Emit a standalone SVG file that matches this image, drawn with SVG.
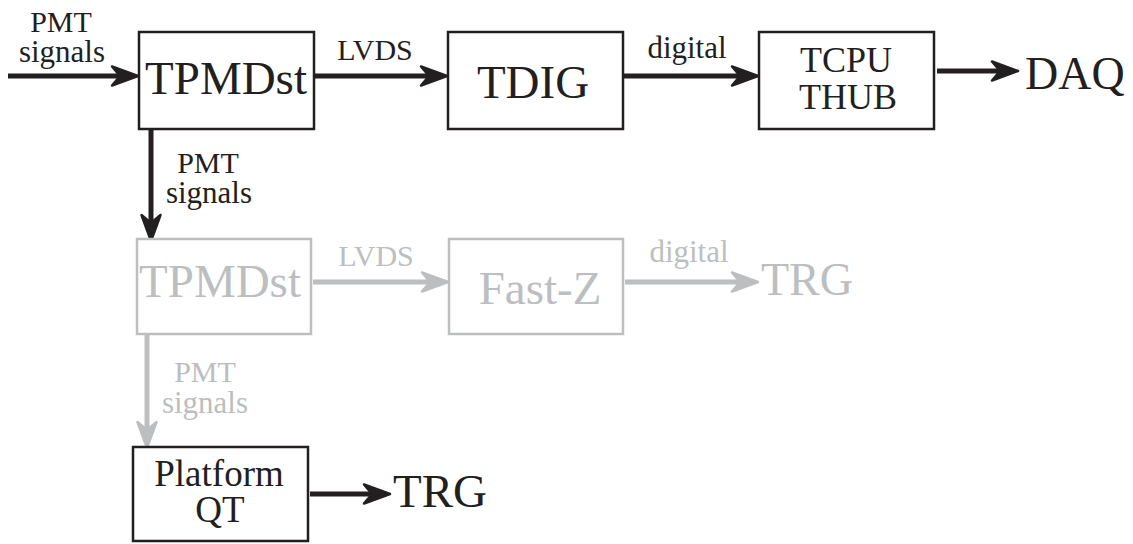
<svg xmlns="http://www.w3.org/2000/svg" width="1133" height="544" viewBox="0 0 1133 544" font-family="Liberation Serif" text-anchor="middle">
<style>
.k{fill:#231f20}
.g{fill:#bcbec0}
.bk{fill:#fff;stroke:#231f20;stroke-width:2.5}
.bg{fill:#fff;stroke:#bcbec0;stroke-width:2.5}
.ck{stroke:#231f20;stroke-width:5;fill:none;marker-end:url(#ak)}
.cg{stroke:#bcbec0;stroke-width:5;fill:none;marker-end:url(#ag)}
.s{font-size:30px}
.s2{font-size:31px}
.m{font-size:36px}
.l{font-size:47px}
</style>
<defs>
<marker id="ak" markerUnits="userSpaceOnUse" orient="auto" overflow="visible" refX="0" refY="0" markerWidth="1" markerHeight="1">
<path d="M18,0 L-8,-9.5 L0,0 L-8,9.5 Z" fill="#231f20" stroke="#231f20" stroke-width="2.5" stroke-linejoin="round"/>
</marker>
<marker id="ag" markerUnits="userSpaceOnUse" orient="auto" overflow="visible" refX="0" refY="0" markerWidth="1" markerHeight="1">
<path d="M18,0 L-8,-9.5 L0,0 L-8,9.5 Z" fill="#bcbec0" stroke="#bcbec0" stroke-width="2.5" stroke-linejoin="round"/>
</marker>
</defs>

<g id="connectors">
<line class="ck" x1="8" y1="76" x2="120" y2="76"/>
<line class="ck" x1="315" y1="76" x2="429" y2="76"/>
<line class="ck" x1="624" y1="76" x2="740" y2="76"/>
<line class="ck" x1="937" y1="71" x2="1000" y2="71"/>
<line class="ck" x1="151" y1="130" x2="151" y2="223"/>
<line class="cg" x1="313" y1="282" x2="430" y2="282"/>
<line class="cg" x1="625" y1="282" x2="740" y2="282"/>
<line class="cg" x1="147" y1="335" x2="147" y2="430"/>
<line class="ck" x1="310" y1="494" x2="372" y2="494"/>
<text font-family="Liberation Serif" class="k s" x="61" y="32">PMT</text>
<text font-family="Liberation Serif" class="k s2" x="62" y="62">signals</text>
<text font-family="Liberation Serif" class="k s" x="375" y="60">LVDS</text>
<text font-family="Liberation Serif" class="k s2" x="687" y="58">digital</text>
<text font-family="Liberation Serif" class="k s" x="208" y="173">PMT</text>
<text font-family="Liberation Serif" class="k s2" x="209" y="203">signals</text>
<text font-family="Liberation Serif" class="g s" x="376" y="266">LVDS</text>
<text font-family="Liberation Serif" class="g s2" x="689" y="262">digital</text>
<text font-family="Liberation Serif" class="g s" x="205" y="382">PMT</text>
<text font-family="Liberation Serif" class="g s2" x="205" y="413">signals</text>
</g>

<g id="tpmdst">
<rect class="bk" x="139" y="32" width="175" height="97"/>
<text font-family="Liberation Serif" class="k l" x="226" y="94">TPMDst</text>
</g>
<g id="tdig">
<rect class="bk" x="448" y="32" width="175" height="97"/>
<text font-family="Liberation Serif" class="k l" x="533" y="98">TDIG</text>
</g>
<g id="tcpu">
<rect class="bk" x="759" y="32" width="175" height="97"/>
<text font-family="Liberation Serif" class="k m" x="846" y="72">TCPU</text>
<text font-family="Liberation Serif" class="k m" x="848" y="109">THUB</text>
</g>
<g id="daq">
<text font-family="Liberation Serif" class="k" x="1025" y="89" font-size="46" text-anchor="start">DAQ</text>
</g>
<g id="tpmdst2">
<rect class="bg" x="137" y="239" width="174" height="95"/>
<text font-family="Liberation Serif" class="g l" x="220" y="297">TPMDst</text>
</g>
<g id="fastz">
<rect class="bg" x="449" y="239" width="174" height="95"/>
<text font-family="Liberation Serif" class="g l" x="540" y="304">Fast-Z</text>
</g>
<g id="trg1">
<text font-family="Liberation Serif" class="g" x="761" y="295" font-size="46" text-anchor="start">TRG</text>
</g>
<g id="platformqt">
<rect class="bk" x="133" y="447" width="175" height="94"/>
<text font-family="Liberation Serif" class="k" x="219" y="486" font-size="37">Platform</text>
<text font-family="Liberation Serif" class="k" x="220" y="522" font-size="37">QT</text>
</g>
<g id="trg2">
<text font-family="Liberation Serif" class="k" x="393" y="507" font-size="47" text-anchor="start">TRG</text>
</g>
</svg>
